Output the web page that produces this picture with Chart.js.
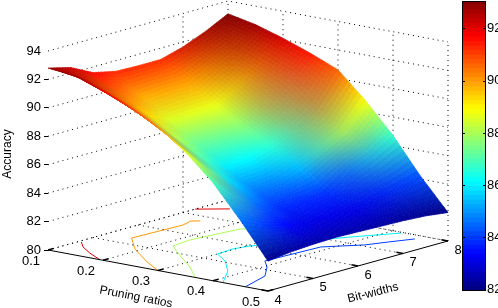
<!DOCTYPE html>
<html>
<head>
<meta charset="utf-8">
<title>Accuracy surface</title>
<script src="https://cdn.jsdelivr.net/npm/chart.js@4"></script>
<style>
  html, body { margin: 0; background: #fff; overflow: hidden; }
  canvas { position: absolute; left: 0; top: 0; }
</style>
</head>
<body>
<canvas id="surface" width="498" height="308"></canvas>
<canvas id="colorbar" width="498" height="308"></canvas>
<script>
// data
const pruneTicks = [0.1, 0.2, 0.3, 0.4, 0.5];
const bitTicks = [4, 5, 6, 7, 8];
const accTicks = [80, 82, 84, 86, 88, 90, 92, 94];
const barTicks = [82, 84, 86, 88, 90, 92];

const prunes = [0.1, 0.15, 0.2, 0.25, 0.3, 0.35, 0.4, 0.45, 0.5];
const bits = [4, 4.5, 5, 5.5, 6, 6.5, 7, 7.5, 8];
const acc10 = [92.8, 92.4, 91.6, 91.25, 91.2, 91.2, 91.65, 92.3, 93.1];
const acc15 = [92.6, 91.45, 90.55, 89.8, 89.95, 89.95, 90.75, 91.6, 92.7];
const acc20 = [91.9, 90.6, 89.35, 88.5, 88.6, 88.65, 89.75, 90.8, 92.1];
const acc25 = [91.1, 89.55, 88.1, 87.2, 87.3, 87.55, 88.5, 90.0, 91.4];
const acc30 = [90.1, 88.35, 86.95, 85.95, 86.1, 86.6, 87.35, 88.45, 90.6];
const acc35 = [88.7, 87.0, 85.75, 84.75, 84.8, 85.4, 86.2, 87.05, 88.8];
const acc40 = [86.9, 85.5, 84.45, 83.75, 83.75, 83.8, 85.0, 85.75, 86.7];
const acc45 = [84.6, 83.85, 83.4, 83.05, 83.1, 83.05, 83.55, 83.85, 84.2];
const acc50 = [82.1, 82.3, 82.4, 82.45, 82.4, 82.35, 82.3, 82.2, 82.0];
const accGrid = [acc10, acc15, acc20, acc25, acc30, acc35, acc40, acc45, acc50];

// floor contours as [pruning ratio, bit width]
const contourLevels = [92, 92, 90, 88, 86, 84];
const contour92a = [[0.194, 4], [0.157, 4.23], [0.126, 4.46], [0.105, 4.68]];
const contour92b = [[0.1, 7.27], [0.137, 7.59]];
const contour90 = [[0.3, 4], [0.255, 4.31], [0.191, 4.82], [0.144, 5.32], [0.149, 6.4], [0.142, 6.66], [0.152, 6.75]];
const contour88 = [[0.366, 4.02], [0.321, 4.45], [0.248, 5.06], [0.22, 5.31], [0.215, 5.75], [0.221, 6.27], [0.227, 6.72], [0.238, 6.81]];
const contour86 = [[0.418, 4], [0.378, 4.6], [0.336, 5.05], [0.3, 5.32], [0.297, 5.7], [0.304, 5.99], [0.379, 7.33], [0.418, 7.96]];
const contour84 = [[0.459, 4], [0.438, 4.69], [0.405, 5.14], [0.379, 5.41], [0.381, 5.83], [0.385, 6.58], [0.425, 7.07], [0.439, 7.42], [0.456, 7.8]];
const contours = [contour92a, contour92b, contour90, contour88, contour86, contour84];

const colorMin = 81.95;
const colorMax = 93.05;
const font = '"Liberation Sans Narrow", "Liberation Sans", Arial, sans-serif';
const fontSize = 13;
const titleSize = 12;

// jet colormap
function jet(v) {
  const t = Math.min(1, Math.max(0, (v - colorMin) / (colorMax - colorMin)));
  const ramp = d => Math.min(1, Math.max(0, 1.5 - Math.abs(4 * t - d)));
  return [ramp(3) * 255, ramp(2) * 255, ramp(1) * 255];
}
const css = c => 'rgb(' + c.map(Math.round).join(',') + ')';

// axonometric view: x scale is horizontal, y scale is accuracy with a lift for depth
function project(p, b, z) {
  return {
    x: 48 + 45 * (b - 4) + 550 * (p - 0.1),
    y: z + 0.88 * (b - 4) - 7.21 * (p - 0.1)
  };
}

function line3d(points, color, dash, width) {
  return {
    data: points.map(pt => project(pt[0], pt[1], pt[2])),
    showLine: true,
    pointRadius: 0,
    borderColor: color,
    borderWidth: width || 1,
    borderDash: dash || [],
    tension: 0
  };
}

const DOTS = [1, 4];
const datasets = [];
const PMIN = 0.1, PMAX = 0.5, BMIN = 4, BMAX = 8, ZMIN = 80, ZMAX = 94;

// back walls
accTicks.forEach(z => {
  datasets.push(line3d([[PMIN, BMIN, z], [PMIN, BMAX, z], [PMAX, BMAX, z]], '#000', DOTS));
});
[7, 8].forEach(b => datasets.push(line3d([[PMIN, b, ZMIN], [PMIN, b, ZMAX]], '#000', DOTS)));
pruneTicks.slice(1).forEach(p => datasets.push(line3d([[p, BMAX, ZMIN], [p, BMAX, ZMAX]], '#000', DOTS)));

// floor
pruneTicks.slice(0, -1).forEach(p => datasets.push(line3d([[p, BMIN, ZMIN], [p, BMAX, ZMIN]], '#000', DOTS)));
bitTicks.slice(1).forEach(b => datasets.push(line3d([[PMIN, b, ZMIN], [PMAX, b, ZMIN]], '#000', DOTS)));

// solid axes with their ticks
datasets.push(line3d([[PMIN, BMIN, ZMIN], [PMAX, BMIN, ZMIN], [PMAX, BMAX, ZMIN]], '#000'));
pruneTicks.forEach(p => datasets.push(line3d([[p, BMIN, ZMIN], [p, BMIN + 0.12, ZMIN]], '#000', [], 1.5)));
bitTicks.forEach(b => datasets.push(line3d([[PMAX, b, ZMIN], [PMAX - 0.012, b, ZMIN]], '#000', [], 1.5)));

// contours on the floor
contours.forEach((c, i) => {
  datasets.push(line3d(c.map(pt => [pt[0], pt[1], ZMIN]), css(jet(contourLevels[i]))));
});

// colours blend in rgb between these bit-width columns, which gives the muddy bands of the picture
const colorCols = [0, 2, 3, 4, 5, 8];
function nodeColor(u, v) {
  const i = Math.min(prunes.length - 2, Math.floor(u));
  let k = 0;
  while (k < colorCols.length - 2 && v >= colorCols[k + 1]) k++;
  const j0 = colorCols[k], j1 = colorCols[k + 1];
  const s = u - i, t = (v - j0) / (j1 - j0);
  const c00 = jet(accGrid[i][j0]), c01 = jet(accGrid[i][j1]);
  const c10 = jet(accGrid[i + 1][j0]), c11 = jet(accGrid[i + 1][j1]);
  return c00.map((_, m) => (1 - s) * ((1 - t) * c00[m] + t * c01[m]) + s * ((1 - t) * c10[m] + t * c11[m]));
}

function surfacePoint(chart, u, v) {
  const i = Math.min(prunes.length - 2, Math.floor(u));
  const j = Math.min(bits.length - 2, Math.floor(v));
  const s = u - i, t = v - j;
  const z = (1 - s) * ((1 - t) * accGrid[i][j] + t * accGrid[i][j + 1]) + s * ((1 - t) * accGrid[i + 1][j] + t * accGrid[i + 1][j + 1]);
  const pt = project(prunes[i] + s * (prunes[i + 1] - prunes[i]), bits[j] + t * (bits[j + 1] - bits[j]), z);
  return [chart.scales.x.getPixelForValue(pt.x), chart.scales.y.getPixelForValue(pt.y)];
}

const surfacePlugin = {
  id: 'surface',
  afterDatasetsDraw(chart) {
    const ctx = chart.ctx;
    const n = 8;
    ctx.save();
    ctx.lineWidth = 0.7;
    ctx.lineJoin = 'round';
    // back to front: low pruning and high bit widths are far away
    for (let a = 0; a < (prunes.length - 1) * n; a++) {
      for (let c = (bits.length - 1) * n - 1; c >= 0; c--) {
        const u0 = a / n, u1 = (a + 1) / n, v0 = c / n, v1 = (c + 1) / n;
        const col = css(nodeColor((u0 + u1) / 2, (v0 + v1) / 2));
        const q = [surfacePoint(chart, u0, v0), surfacePoint(chart, u0, v1), surfacePoint(chart, u1, v1), surfacePoint(chart, u1, v0)];
        ctx.beginPath();
        q.forEach((pt, k) => k ? ctx.lineTo(pt[0], pt[1]) : ctx.moveTo(pt[0], pt[1]));
        ctx.closePath();
        ctx.fillStyle = col;
        ctx.strokeStyle = col;
        ctx.fill();
        ctx.stroke();
      }
    }
    ctx.restore();
  }
};

// tick labels and titles of the two floor axes
const floorLabels = {
  id: 'floorLabels',
  afterDraw(chart) {
    const ctx = chart.ctx;
    const px = pt => [chart.scales.x.getPixelForValue(pt.x), chart.scales.y.getPixelForValue(pt.y)];
    ctx.save();
    ctx.fillStyle = '#000';
    ctx.font = fontSize + 'px ' + font;
    ctx.textAlign = 'center';
    ctx.textBaseline = 'middle';
    pruneTicks.forEach(p => {
      const pos = px(project(p, BMIN, ZMIN));
      ctx.fillText(p.toFixed(1), pos[0] - 17, pos[1] + 11);
    });
    bitTicks.forEach(b => {
      const pos = px(project(PMAX, b, ZMIN));
      ctx.fillText(String(b), pos[0] + 10, pos[1] + 9);
    });
    const rotated = (text, x, y, angle) => {
      ctx.save();
      ctx.translate(x, y);
      ctx.rotate(angle * Math.PI / 180);
      ctx.fillText(text, 0, 0);
      ctx.restore();
    };
    ctx.font = titleSize + 'px ' + font;
    rotated('Pruning ratios', 136, 297, 11);
    rotated('Bit-widths', 373, 293, -14);
    ctx.restore();
  }
};

// keep the axis from eating into the chart area for its first and last label
function fixAxis(width) {
  return s => {
    s.width = width;
    s.paddingTop = 0;
    s.paddingBottom = 0;
    s.paddingLeft = 0;
    s.paddingRight = 0;
  };
}

new Chart(document.getElementById('surface'), {
  type: 'scatter',
  data: { datasets: datasets },
  plugins: [surfacePlugin, floorLabels],
  options: {
    responsive: false,
    animation: false,
    layout: { padding: 0, autoPadding: false },
    plugins: { legend: { display: false }, tooltip: { enabled: false } },
    scales: {
      x: { type: 'linear', display: false, min: 48, max: 498 },
      y: {
        type: 'linear',
        position: 'left',
        min: 75.92,
        max: 97.59,
        afterFit: fixAxis(48),
        afterBuildTicks: s => { s.ticks = accTicks.map(v => ({ value: v })); },
        border: { display: false },
        grid: {
          drawOnChartArea: false,
          tickLength: 4,
          tickColor: c => (c.tick && c.tick.value === 94 ? 'transparent' : '#000')
        },
        ticks: { color: '#000', autoSkip: false, padding: 3, font: { family: font, size: fontSize } },
        title: { display: true, text: 'Accuracy', color: '#000', padding: { top: 0, bottom: 0 }, font: { family: font, size: titleSize } }
      }
    }
  }
});

// colour bar
const barLevels = [];
for (let i = 0; i < 64; i++) barLevels.push(colorMin + (colorMax - colorMin) * i / 64);

const barFrame = {
  id: 'barFrame',
  afterDraw(chart) {
    const { ctx, chartArea: a, scales } = chart;
    ctx.save();
    ctx.strokeStyle = '#000';
    ctx.lineWidth = 1;
    ctx.strokeRect(a.left + 0.5, a.top + 0.5, a.right - a.left - 1, a.bottom - a.top - 1);
    barTicks.forEach(v => {
      const y = Math.round(scales.y.getPixelForValue(v)) + 0.5;
      ctx.beginPath();
      ctx.moveTo(a.left, y); ctx.lineTo(a.left + 3, y);
      ctx.moveTo(a.right - 3, y); ctx.lineTo(a.right, y);
      ctx.stroke();
    });
    ctx.restore();
  }
};

new Chart(document.getElementById('colorbar'), {
  type: 'bar',
  data: {
    labels: ['Accuracy'],
    datasets: barLevels.map(lo => ({
      data: [[lo, lo + (colorMax - colorMin) / 64 + 0.02]],
      backgroundColor: css(jet(lo + (colorMax - colorMin) / 128)),
      grouped: false,
      barPercentage: 1,
      categoryPercentage: 1
    }))
  },
  plugins: [barFrame],
  options: {
    responsive: false,
    animation: false,
    layout: { padding: { left: 462, top: 1, right: 0, bottom: 17 }, autoPadding: false },
    plugins: { legend: { display: false }, tooltip: { enabled: false } },
    scales: {
      x: { display: false },
      y: {
        position: 'right',
        min: colorMin,
        max: colorMax,
        afterFit: fixAxis(12),
        afterBuildTicks: s => { s.ticks = barTicks.map(v => ({ value: v })); },
        border: { display: false },
        grid: { display: false, tickLength: 0 },
        ticks: { color: '#000', autoSkip: false, padding: 1, font: { family: font, size: fontSize } }
      }
    }
  }
});
</script>
</body>
</html>
